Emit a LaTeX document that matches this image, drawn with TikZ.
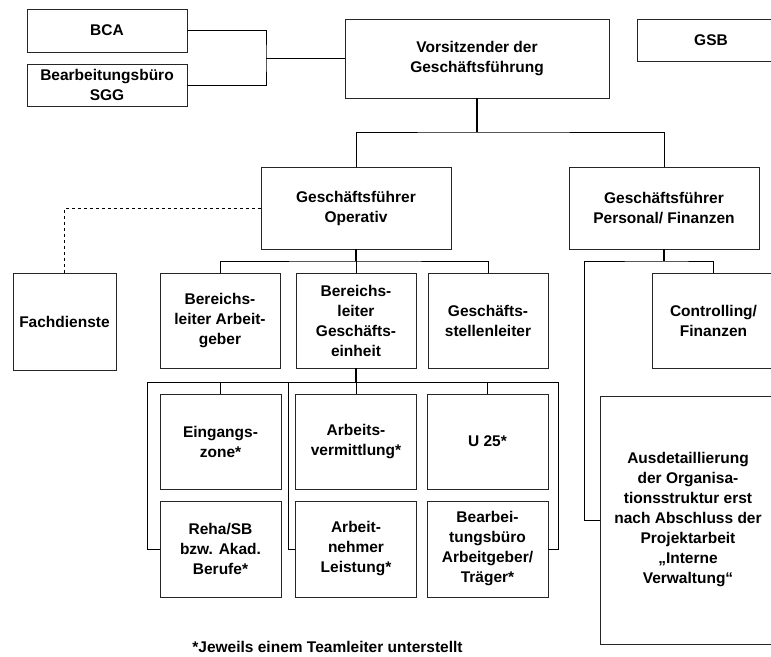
\documentclass[tikz,border=0pt]{standalone}
\usepackage{fontspec}
\setmainfont{Liberation Sans}
\begin{document}
\begin{tikzpicture}[x=1pt, y=-1pt,
  unit/.style={draw=black!85, line width=0.8pt, align=center, inner sep=2pt,
    font=\bfseries\fontsize{15.5}{20}\selectfont},
  link/.style={line width=0.8pt},
  trunk/.style={line width=1.6pt}]

\useasboundingbox (0,0) rectangle (771,656);
\clip (0,0) rectangle (771,656);

% top level
\node [unit, minimum width=160, minimum height=43] (bca) at (107,30.5) {BCA};
\node [unit, minimum width=160, minimum height=42] (sgg) at (107,85) {Bearbeitungsb\"uro\\SGG};
\node [unit, minimum width=264, minimum height=79] (vors) at (477,58.5) {Vorsitzender der\\Gesch\"aftsf\"uhrung};
\node [unit, minimum width=148, minimum height=42] (gsb) at (711,40) {GSB};

% managing directors
\node [unit, minimum width=190, minimum height=82] (gfop) at (356,208) {Gesch\"aftsf\"uhrer\\Operativ};
\node [unit, minimum width=190, minimum height=82] (gfpf) at (664,208) {Gesch\"aftsf\"uhrer\\Personal/ Finanzen};

% second row
\node [unit, minimum width=103, minimum height=97] (fach) at (64.5,321.5) {Fachdienste};
\node [unit, minimum width=120, minimum height=95] (bla) at (220,320.5) {Bereichs-\\leiter Arbeit-\\geber};
\node [unit, minimum width=120, minimum height=95] (blg) at (356,320.5) {Bereichs-\\leiter\\Gesch\"afts-\\einheit};
\node [unit, minimum width=120, minimum height=95] (gsl) at (488,320.5) {Gesch\"afts-\\stellenleiter};
\node [unit, minimum width=123, minimum height=95] (ctrl) at (713.5,320.5) {Controlling/\\Finanzen};

% teams
\node [unit, minimum width=121, minimum height=95] (ein) at (220.5,441.5) {Eingangs-\\zone*};
\node [unit, minimum width=121, minimum height=95] (arbv) at (356,441.5) {Arbeits-\\vermittlung*};
\node [unit, minimum width=121, minimum height=95] (u25) at (487.5,441.5) {U 25*};
\node [unit, minimum width=121, minimum height=96] (reha) at (220.5,549) {Reha/SB\\bzw. Akad.\\Berufe*};
\node [unit, minimum width=121, minimum height=96] (arbn) at (356,549) {Arbeit-\\nehmer\\Leistung*};
\node [unit, minimum width=121, minimum height=96] (bbag) at (487.5,549) {Bearbei-\\tungsb\"uro\\Arbeitgeber/\\Tr\"ager*};
\node [unit, minimum width=176, minimum height=248] (aus) at (688,520) {Ausdetaillierung\\der Organisa-\\tionsstruktur erst\\nach Abschluss der\\Projektarbeit\\„Interne\\Verwaltung“};

\node [font=\bfseries\fontsize{15.5}{20}\selectfont] (note) at (327.5,647) {*Jeweils einem Teamleiter unterstellt};

% junctions
\coordinate (j1) at (266,58.5);
\coordinate (j2) at (477,132);
\coordinate (j3) at (356,261);
\coordinate (j4) at (356,382);
\coordinate (j5) at (664,261);
\coordinate (b1) at (147,382);
\coordinate (b2) at (558,382);
\coordinate (b3) at (288,382);
\coordinate (b4) at (584,261);

% staff units
\draw [link] (bca.east) -| (j1) |- (sgg.east);
\draw [link] (j1) -- (vors.west);

% board
\draw [trunk] (vors.south) -- (j2);
\draw [link] (gfop.north) |- (j2) -| (gfpf.north);
\draw [link, dashed] (gfop.west) -| (fach.north);

% operativ
\draw [trunk] (gfop.south) -- (j3);
\draw [link] (j3) -- (blg.north);
\draw [link] (bla.north) |- (j3) -| (gsl.north);

% business unit
\draw [trunk] (blg.south) -- (j4);
\draw [link] (j4) -- (arbv.north);
\draw [link] (reha.west) -| (b1) -- (b2) |- (bbag.east);
\draw [link] (arbn.west) -| (b3);
\draw [link] (ein.north) -- (ein.north |- j4);
\draw [link] (u25.north) -- (u25.north |- j4);

% personal / finanzen
\draw [trunk] (gfpf.south) -- (j5);
\draw [link] (aus.west) -| (b4) -- (j5) -| (ctrl.north);

\end{tikzpicture}
\end{document}
